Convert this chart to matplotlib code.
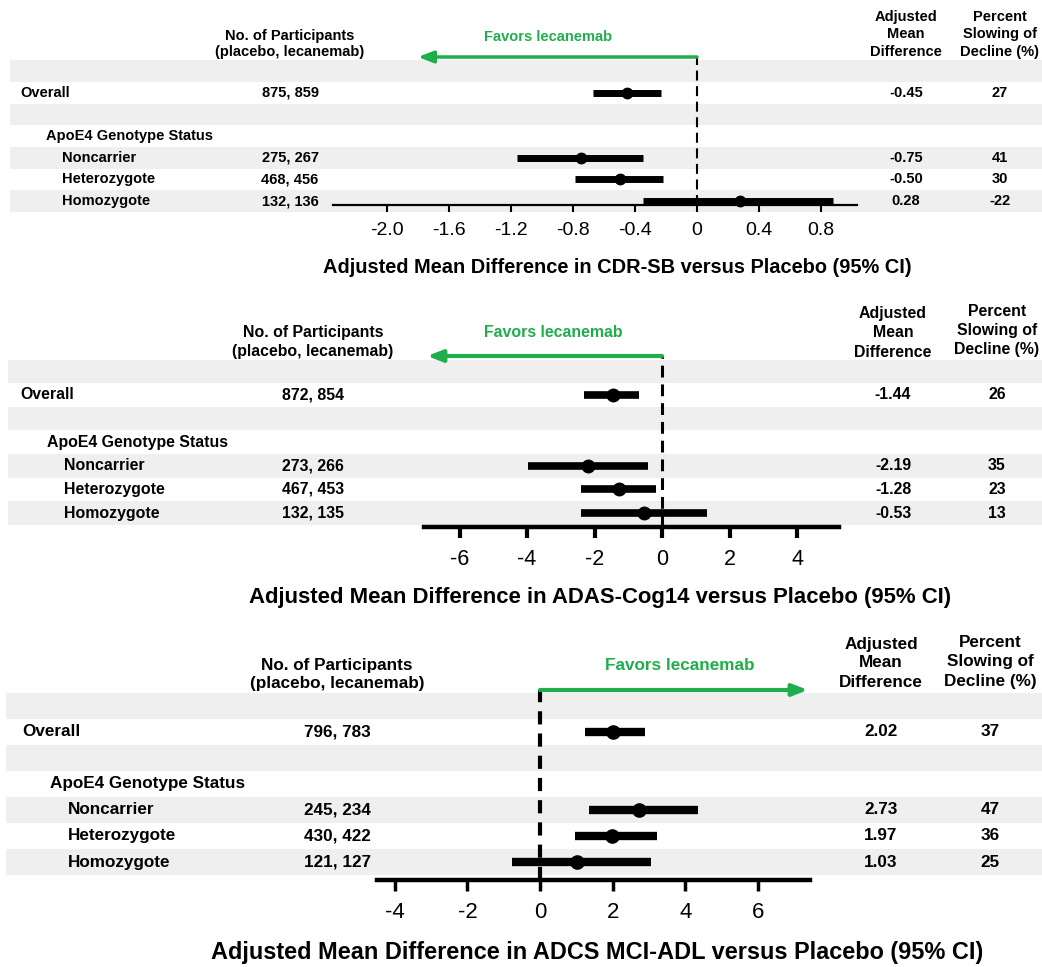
import matplotlib
matplotlib.use("Agg")
import matplotlib.pyplot as plt

plt.rcParams['font.family'] = ['Liberation Sans', 'DejaVu Sans']

# ---------------- data ----------------
row_labels = ["Overall", "Noncarrier", "Heterozygote", "Homozygote"]
group_header = "ApoE4 Genotype Status"

cdr_n = ["875, 859", "275, 267", "468, 456", "132, 136"]
cdr_est = [-0.45, -0.75, -0.50, 0.28]
cdr_lo = [-0.67, -1.16, -0.79, -0.35]
cdr_hi = [-0.23, -0.35, -0.22, 0.88]
cdr_amd = ["-0.45", "-0.75", "-0.50", "0.28"]
cdr_pct = ["27", "41", "30", "-22"]
cdr_ticks = [-2.0, -1.6, -1.2, -0.8, -0.4, 0, 0.4, 0.8]
cdr_ticklabels = ["-2.0", "-1.6", "-1.2", "-0.8", "-0.4", "0", "0.4", "0.8"]

adas_n = ["872, 854", "273, 266", "467, 453", "132, 135"]
adas_est = [-1.44, -2.19, -1.28, -0.53]
adas_lo = [-2.31, -3.97, -2.40, -2.40]
adas_hi = [-0.68, -0.41, -0.18, 1.33]
adas_amd = ["-1.44", "-2.19", "-1.28", "-0.53"]
adas_pct = ["26", "35", "23", "13"]
adas_ticks = [-6, -4, -2, 0, 2, 4]
adas_ticklabels = ["-6", "-4", "-2", "0", "2", "4"]

adcs_n = ["796, 783", "245, 234", "430, 422", "121, 127"]
adcs_est = [2.02, 2.73, 1.97, 1.03]
adcs_lo = [1.24, 1.34, 0.96, -0.77]
adcs_hi = [2.89, 4.35, 3.21, 3.06]
adcs_amd = ["2.02", "2.73", "1.97", "1.03"]
adcs_pct = ["37", "47", "36", "25"]
adcs_ticks = [-4, -2, 0, 2, 4, 6]
adcs_ticklabels = ["-4", "-2", "0", "2", "4", "6"]

titles = [
    "Adjusted Mean Difference in CDR-SB versus Placebo (95% CI)",
    "Adjusted Mean Difference in ADAS-Cog14 versus Placebo (95% CI)",
    "Adjusted Mean Difference in ADCS MCI-ADL versus Placebo (95% CI)",
]
favors_text = "Favors lecanemab"

# ---------------- layout / style ----------------
W, H = 1042, 967
GREEN = "#1fae4b"
GREY = "#efefef"
data_rows = [1, 4, 5, 6]
header_row = 3
band_rows = [0, 2, 4, 6]

panels = [
    dict(n=cdr_n, est=cdr_est, lo=cdr_lo, hi=cdr_hi, amd=cdr_amd, pct=cdr_pct,
         ticks=cdr_ticks, ticklabels=cdr_ticklabels, title=titles[0],
         top=57, bot=205, ytop=-0.65, ybot=6.18, zero=697, ppu=155.0,
         axmin=-2.35, axmax=1.03, arrow_to=-1.80,
         lab_x=20, grp_x=46, sub_x=62, n_x=290, amd_x=906, pct_x=1000,
         n_hdr=(-1.61, -0.88), amd_hdr=(-2.49, -1.70, -0.88), pct_hdr=(-2.49, -1.70, -0.88),
         fav=(548, -1.57), fs=10.5, tfs=14.4, tickfs=14.0, title_y=268, title_x=617,
         band_x0=10, ci_lw=5.0, ms=7.5, dash_lw=1.5, dash=(7.2, 4.0), axis_lw=1.6,
         tick_len=5, tick_w=1.5, arrow_lw=2.5, pad=7),
    dict(n=adas_n, est=adas_est, lo=adas_lo, hi=adas_hi, amd=adas_amd, pct=adas_pct,
         ticks=adas_ticks, ticklabels=adas_ticklabels, title=titles[1],
         top=356, bot=527, ytop=-0.65, ybot=6.59, zero=662, ppu=33.75,
         axmin=-7.05, axmax=5.24, arrow_to=-6.96,
         lab_x=20, grp_x=47, sub_x=64, n_x=313, amd_x=893, pct_x=997,
         n_hdr=(-1.63, -0.82), amd_hdr=(-2.47, -1.63, -0.78), pct_hdr=(-2.52, -1.71, -0.91),
         fav=(553, -1.63), fs=11.4, tfs=15.9, tickfs=15.5, title_y=597, title_x=600,
         band_x0=8, ci_lw=5.5, ms=9, dash_lw=2.2, dash=(8.5, 5.0), axis_lw=3.2,
         tick_len=8, tick_w=3, arrow_lw=3, pad=8),
    dict(n=adcs_n, est=adcs_est, lo=adcs_lo, hi=adcs_hi, amd=adcs_amd, pct=adcs_pct,
         ticks=adcs_ticks, ticklabels=adcs_ticklabels, title=titles[2],
         top=690, bot=880, ytop=-0.60, ybot=6.69, zero=540, ppu=36.3,
         axmin=-4.49, axmax=7.44, arrow_to=7.38,
         lab_x=22, grp_x=50, sub_x=68, n_x=337, amd_x=881, pct_x=990,
         n_hdr=(-1.54, -0.85), amd_hdr=(-2.35, -1.65, -0.88), pct_hdr=(-2.42, -1.69, -0.92),
         fav=(680, -1.54), fs=12.3, tfs=16.9, tickfs=16, title_y=953, title_x=597,
         band_x0=6, ci_lw=6.0, ms=9.5, dash_lw=3.0, dash=(9.5, 6.5), axis_lw=3.2,
         tick_len=8, tick_w=2.5, arrow_lw=3, pad=8),
]

fig = plt.figure(figsize=(W / 100, H / 100), dpi=100)
fig.patch.set_facecolor("white")

for p in panels:
    ax = fig.add_axes([0, 1 - p["bot"] / H, 1, (p["bot"] - p["top"]) / H])
    ax.patch.set_alpha(0)
    ax.set_xlim(-p["zero"] / p["ppu"], (W - p["zero"]) / p["ppu"])
    ax.set_ylim(p["ybot"], p["ytop"])
    for s in ("left", "right", "top"):
        ax.spines[s].set_visible(False)
    ax.spines["bottom"].set_bounds(p["axmin"], p["axmax"])
    ax.spines["bottom"].set_linewidth(p["axis_lw"])
    ax.spines["bottom"].set_zorder(3)
    ax.set_yticks([])
    ax.set_xticks(p["ticks"])
    ax.set_xticklabels(p["ticklabels"], fontsize=p["tickfs"])
    ax.tick_params(axis="x", direction="out", length=p["tick_len"], width=p["tick_w"], pad=p["pad"])

    # grey bands
    for r in band_rows:
        ax.axhspan(r - 0.5, r + 0.5, xmin=p["band_x0"] / W, xmax=1, color=GREY,
                   lw=0, zorder=0, clip_on=False)

    # reference dashed line at 0
    on, off = p["dash"]
    ax.axvline(0, color="black", lw=p["dash_lw"],
               linestyle=(0, (on / p["dash_lw"], off / p["dash_lw"])), zorder=2)

    # favors arrow
    ax.annotate("", xy=(p["arrow_to"], p["ytop"]), xytext=(0, p["ytop"]),
                arrowprops=dict(arrowstyle="-|>,head_length=0.9,head_width=0.35",
                                color=GREEN, lw=p["arrow_lw"], shrinkA=0, shrinkB=0),
                annotation_clip=False, zorder=4)

    # CIs and points
    for r, e, lo, hi in zip(data_rows, p["est"], p["lo"], p["hi"]):
        ax.plot([lo, hi], [r, r], color="black", lw=p["ci_lw"], solid_capstyle="butt",
                clip_on=False, zorder=5)
        ax.plot([e], [r], "o", color="black", ms=p["ms"], clip_on=False, zorder=6)

    tr = ax.get_yaxis_transform()
    fs = p["fs"]
    kw = dict(transform=tr, fontsize=fs, fontweight="bold", va="center", color="black")
    # row labels
    for i, (r, lab) in enumerate(zip(data_rows, row_labels)):
        x = p["lab_x"] if i == 0 else p["sub_x"]
        ax.text(x / W, r, lab, ha="left", **kw)
        ax.text(p["n_x"] / W, r, p["n"][i], ha="center", **kw)
        ax.text(p["amd_x"] / W, r, p["amd"][i], ha="center", **kw)
        ax.text(p["pct_x"] / W, r, p["pct"][i], ha="center", **kw)
    ax.text(p["grp_x"] / W, header_row, group_header, ha="left", **kw)

    # column headers
    ax.text(p["n_x"] / W, p["n_hdr"][0], "No. of Participants", ha="center", **kw)
    ax.text(p["n_x"] / W, p["n_hdr"][1], "(placebo, lecanemab)", ha="center", **kw)
    for y, t in zip(p["amd_hdr"], ["Adjusted", "Mean", "Difference"]):
        ax.text(p["amd_x"] / W, y, t, ha="center", **kw)
    for y, t in zip(p["pct_hdr"], ["Percent", "Slowing of", "Decline (%)"]):
        ax.text(p["pct_x"] / W, y, t, ha="center", **kw)
    ax.text(p["fav"][0] / W, p["fav"][1], favors_text, ha="center", transform=tr,
            fontsize=fs, fontweight="bold", va="center", color=GREEN)

    fig.text(p["title_x"] / W, 1 - p["title_y"] / H, p["title"], ha="center", va="center",
             fontsize=p["tfs"], fontweight="bold")

fig.savefig("out.png", dpi=100, facecolor="white")
